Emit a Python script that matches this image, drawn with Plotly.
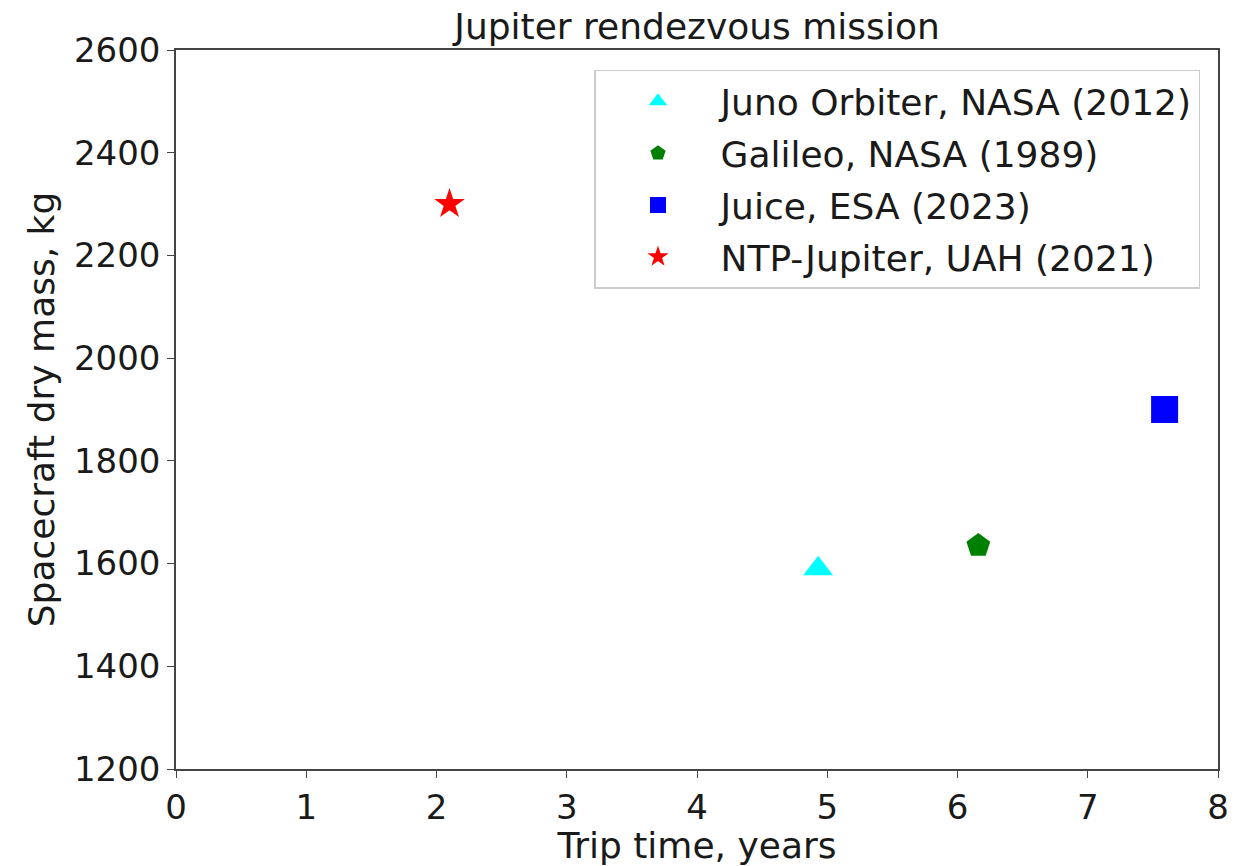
import plotly.graph_objects as go

names = ["Juno Orbiter, NASA (2012)", "Galileo, NASA (1989)", "Juice, ESA (2023)", "NTP-Jupiter, UAH (2021)"]
trip_years = [4.93, 6.16, 7.59, 2.10]
dry_mass = [1590, 1635, 1900, 2300]
colors = ["cyan", "green", "blue", "red"]
symbols = ["triangle-up", "pentagon", "square", "star"]
sizes = [26, 25, 27, 23]

fig = go.Figure()
for i in range(len(names)):
    fig.add_trace(go.Scatter(
        x=[trip_years[i]], y=[dry_mass[i]], mode="markers", name=names[i],
        legendgroup=str(i),
        marker=dict(color=colors[i], symbol=symbols[i], size=sizes[i], line=dict(width=0)),
    ))

tick_font = dict(family="DejaVu Sans", size=34, color="#1a1a1a")
label_font = dict(family="DejaVu Sans", size=36, color="#1a1a1a")
axis_common = dict(showline=True, linecolor="#444", linewidth=1.5, mirror=True, ticks="outside",
                   ticklen=7, tickcolor="#444", showgrid=False, zeroline=False, tickfont=tick_font)
fig.update_layout(
    width=1253, height=866, autosize=False,
    margin=dict(l=176, r=35, t=50, b=95),
    paper_bgcolor="white", plot_bgcolor="white",
    font=label_font,
    title=dict(text="Jupiter rendezvous mission", x=0.5 * (176 + 1218) / 1253, xanchor="center",
               y=1 - 26 / 866, yanchor="middle", font=label_font),
    xaxis=dict(range=[0, 8], dtick=1, title=dict(text="Trip time, years", standoff=2, font=label_font), **axis_common),
    yaxis=dict(range=[1200, 2600], dtick=200, title=dict(text="Spacecraft dry mass, kg", standoff=8, font=label_font), **axis_common),
    legend=dict(x=(1200 - 176) / (1218 - 176), y=(771 - 70) / (771 - 50), xanchor="right", yanchor="top",
                bgcolor="white", bordercolor="#ccc",
                borderwidth=1.5, font=label_font, tracegroupgap=2, itemwidth=115),
    showlegend=True,
)
fig.write_html("out.html")
